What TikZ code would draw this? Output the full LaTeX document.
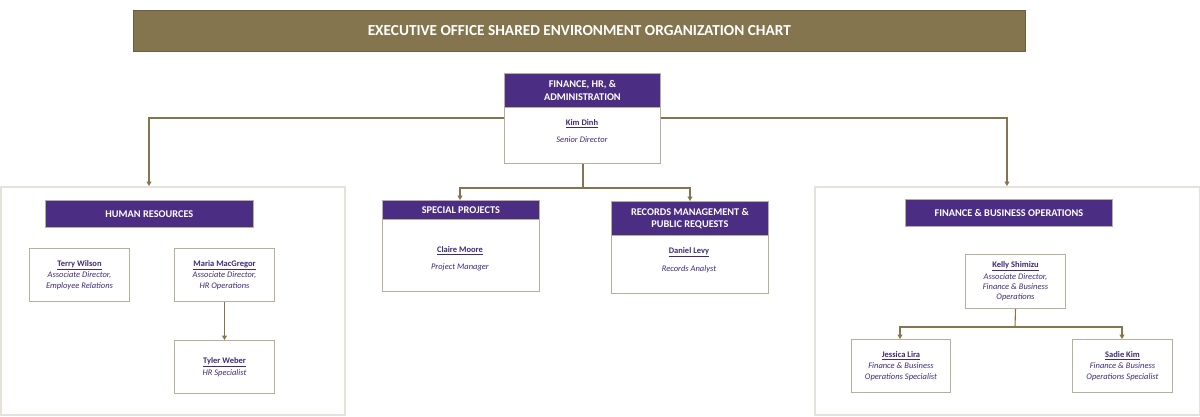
\documentclass[tikz,border=0pt]{standalone}
\usepackage{fontspec}
\setmainfont{Carlito}
\usetikzlibrary{arrows.meta}

\definecolor{uwpurple}{HTML}{4B2E83}
\definecolor{uwgold}{HTML}{85754E}
\definecolor{boxline}{HTML}{B9AF98}
\definecolor{panelline}{HTML}{E6E2DA}
\definecolor{nametext}{HTML}{3F2A78}

\tikzset{
  panel/.style={draw=panelline, line width=1.5pt, anchor=north west, inner sep=0pt},
  unitbox/.style={draw=boxline, fill=white, line width=1pt, anchor=north west, inner sep=0pt},
  band/.style={fill=uwpurple, draw=boxline, line width=0.8pt, anchor=north west, inner sep=0pt,
    text=white, font=\bfseries\fontsize{10.3}{12.5}\selectfont, align=center},
  persontext/.style={text=nametext, align=center, font=\fontsize{8.5}{10.2}\selectfont},
  link/.style={draw=uwgold, line width=1.1pt},
  linkarrow/.style={link, -{Triangle[width=5pt,length=4.5pt]}}
}
\newcommand{\whoname}[1]{\textbf{\underline{#1}}}

\begin{document}
\begin{tikzpicture}[x=1pt, y=-1pt]
    \useasboundingbox (0,0) rectangle (1200,416);
    % title
    \node (title) at (133,10)[anchor=north west, fill=uwgold, draw=uwgold!80!black, line width=0.6pt,
      minimum width=892pt, minimum height=41pt, inner sep=0pt, text=white,
      font=\bfseries\fontsize{15.3}{17}\selectfont]{EXECUTIVE OFFICE SHARED ENVIRONMENT ORGANIZATION CHART};

    % panels
    \node (hrpanel) at (0,186)[panel, minimum width=344pt, minimum height=228pt]{};
    \node (fbpanel) at (814,186)[panel, minimum width=385pt, minimum height=228pt]{};

    % top unit
    \node (top) at (504,73)[unitbox, minimum width=156pt, minimum height=90pt]{};
    \node (tophead) at (504,73)[band, minimum width=156pt, minimum height=34pt]{FINANCE, HR, \&\\ADMINISTRATION};
    \node (kimname) at (582,124)[persontext]{\whoname{Kim Dinh}};
    \node (kimtitle) at (582,140)[persontext]{\textit{Senior Director}};

    % special projects
    \node (sp) at (382,200)[unitbox, minimum width=157pt, minimum height=91pt]{};
    \node (sphead) at (382,200)[band, minimum width=157pt, minimum height=19pt]{SPECIAL PROJECTS};
    \node (claire) at (460,251)[persontext]{\whoname{Claire Moore}};
    \node (clairetitle) at (460,267)[persontext]{\textit{Project Manager}};

    % records
    \node (rec) at (611,201)[unitbox, minimum width=157pt, minimum height=92pt]{};
    \node (rechead) at (611,201)[band, minimum width=157pt, minimum height=34pt]{RECORDS MANAGEMENT \&\\PUBLIC REQUESTS};
    \node (daniel) at (689,252)[persontext]{\whoname{Daniel Levy}};
    \node (danieltitle) at (689,269)[persontext]{\textit{Records Analyst}};

    % human resources
    \node (hrhead) at (45,200)[band, minimum width=208pt, minimum height=27pt]{HUMAN RESOURCES};
    \node (terry) at (29,248)[unitbox, persontext, minimum width=100pt, minimum height=53pt]
      {\whoname{Terry Wilson}\\[1.2pt]\textit{Associate Director,}\\\textit{Employee Relations}};
    \node (maria) at (174,248)[unitbox, persontext, minimum width=100pt, minimum height=53pt]
      {\whoname{Maria MacGregor}\\[1.2pt]\textit{Associate Director,}\\\textit{HR Operations}};
    \node (tyler) at (174,340)[unitbox, persontext, minimum width=100pt, minimum height=53pt]
      {\whoname{Tyler Weber}\\[1.2pt]\textit{HR Specialist}};

    % finance & business operations
    \node (fbhead) at (905,199)[band, minimum width=207pt, minimum height=27pt]{FINANCE \& BUSINESS OPERATIONS};
    \node (kelly) at (965,254)[unitbox, persontext, minimum width=100pt, minimum height=54pt]
      {\whoname{Kelly Shimizu}\\[1.2pt]\textit{Associate Director,}\\\textit{Finance \& Business}\\\textit{Operations}};
    \node (jessica) at (851,339)[unitbox, persontext, minimum width=99pt, minimum height=53pt]
      {\whoname{Jessica Lira}\\[1.2pt]\textit{Finance \& Business}\\\textit{Operations Specialist}};
    \node (sadie) at (1072,339)[unitbox, persontext, minimum width=100pt, minimum height=53pt]
      {\whoname{Sadie Kim}\\[1.2pt]\textit{Finance \& Business}\\\textit{Operations Specialist}};

    % connectors
    \draw[linkarrow] (top.west |- 0,118) -| (hrpanel.north -| 149,0);
    \draw[linkarrow] (top.east |- 0,118) -| (fbpanel.north -| 1007,0);
    \coordinate (split) at (583,188);
    \draw[link] (top.south -| split) -- (split);
    \draw[linkarrow] (split) -| (sp.north -| 460,0);
    \draw[linkarrow] (split) -| (rec.north -| 690,0);
    \draw[linkarrow] (maria.south) -- (tyler.north);
    \coordinate (fbsplit) at (1015,327);
    \draw[link] (kelly.south) -- (fbsplit);
    \draw[linkarrow] (fbsplit) -| (jessica.north -| 900,0);
    \draw[linkarrow] (fbsplit) -| (sadie.north -| 1122,0);
\end{tikzpicture}
\end{document}
